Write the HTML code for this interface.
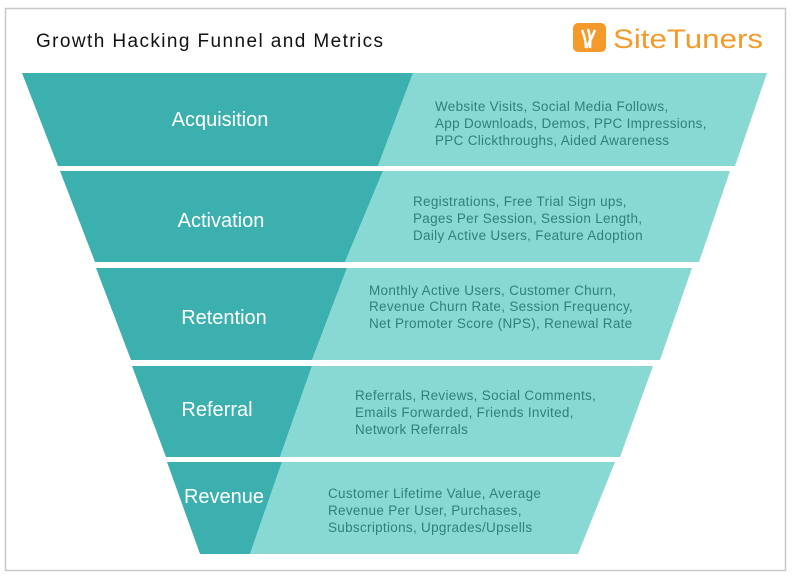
<!DOCTYPE html>
<html><head><meta charset="utf-8"><style>
html,body{margin:0;padding:0;background:#fff;}
svg{display:block;font-family:"Liberation Sans",sans-serif;}
.lab{fill:#fff;font-size:20px;text-anchor:middle;}
.det{fill:#2f7f7b;font-size:13.5px;letter-spacing:0.3px;}
</style></head><body>
<svg width="792" height="576" viewBox="0 0 792 576">
<rect x="5.5" y="8.5" width="780" height="562" fill="#fff" stroke="#c8c8c8" stroke-width="1.5"/>
<text x="36" y="47" font-size="19" fill="#111" textLength="347" lengthAdjust="spacing">Growth Hacking Funnel and Metrics</text>
<rect x="573" y="23" width="33" height="29" rx="5" fill="#f39a2b"/>
<path d="M582 30 q4 10 4 18 M588 29 q3 9 2 19 M595 30 q-4 10 -9 18" stroke="#fff" stroke-width="2.5" fill="none"/>
<text x="613" y="48" font-size="27" fill="#f39a2b" textLength="150" lengthAdjust="spacingAndGlyphs">SiteTuners</text>
<polygon points="22,73 413,73 378,166 58,166" fill="#3cb0ae"/>
<polygon points="413,73 767,73 735,166 378,166" fill="#88d9d4"/>
<polygon points="60,171 383,171 345,262 95,262" fill="#3cb0ae"/>
<polygon points="383,171 730,171 699,262 345,262" fill="#88d9d4"/>
<polygon points="96,268 347,268 312,360 131,360" fill="#3cb0ae"/>
<polygon points="347,268 692,268 660,360 312,360" fill="#88d9d4"/>
<polygon points="132,366 312,366 280,457 166,457" fill="#3cb0ae"/>
<polygon points="312,366 653,366 620,457 280,457" fill="#88d9d4"/>
<polygon points="167,462 282,462 250,554 200,554" fill="#3cb0ae"/>
<polygon points="282,462 615,462 578,554 250,554" fill="#88d9d4"/>
<text class="lab" x="220" y="126">Acquisition</text>
<text class="lab" x="221" y="227">Activation</text>
<text class="lab" x="224" y="324">Retention</text>
<text class="lab" x="217" y="416">Referral</text>
<text class="lab" x="224" y="503">Revenue</text>
<g class="det">
<text x="435" y="111">Website Visits, Social Media Follows,</text>
<text x="435" y="128">App Downloads, Demos, PPC Impressions,</text>
<text x="435" y="145">PPC Clickthroughs, Aided Awareness</text>
<text x="413" y="206">Registrations, Free Trial Sign ups,</text>
<text x="413" y="223">Pages Per Session, Session Length,</text>
<text x="413" y="240">Daily Active Users, Feature Adoption</text>
<text x="369" y="295">Monthly Active Users, Customer Churn,</text>
<text x="369" y="311">Revenue Churn Rate, Session Frequency,</text>
<text x="369" y="328">Net Promoter Score (NPS), Renewal Rate</text>
<text x="355" y="400">Referrals, Reviews, Social Comments,</text>
<text x="355" y="417">Emails Forwarded, Friends Invited,</text>
<text x="355" y="434">Network Referrals</text>
<text x="328" y="498">Customer Lifetime Value, Average</text>
<text x="328" y="515">Revenue Per User, Purchases,</text>
<text x="328" y="532">Subscriptions, Upgrades/Upsells</text>
</g>
</svg>
</body></html>
